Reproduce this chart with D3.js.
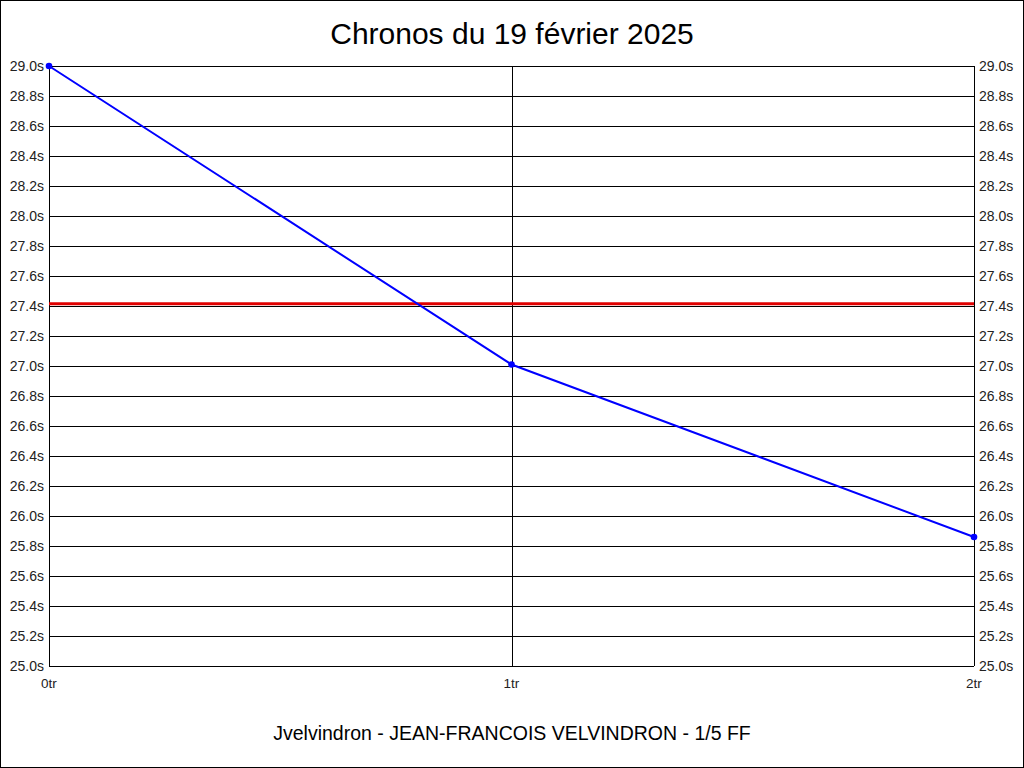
<!DOCTYPE html>
<html><head><meta charset="utf-8">
<script src="https://cdn.jsdelivr.net/npm/d3@7"></script>
<style>body{margin:0;background:#fff}svg{display:block}</style>
</head><body>
<svg id="c" width="1024" height="768"></svg>
<script>
const title = "Chronos du 19 février 2025";
const footer = "Jvelvindron - JEAN-FRANCOIS VELVINDRON - 1/5 FF";
const laps = [0, 1, 2];
const lapLabels = ["0tr", "1tr", "2tr"];
const times = [29.0, 27.01, 25.86];
const refTime = 27.415;
const yTicks = [25.0,25.2,25.4,25.6,25.8,26.0,26.2,26.4,26.6,26.8,27.0,27.2,27.4,27.6,27.8,28.0,28.2,28.4,28.6,28.8,29.0];

const svg = d3.select("#c");
const W = 1024, H = 768;
const m = {l: 49, r: 50, t: 66, b: 102};
const x = d3.scaleLinear().domain([0, 2]).range([m.l, W - m.r]);
const y = d3.scaleLinear().domain([25, 29]).range([H - m.b, m.t]);
const font = "Liberation Sans, Arial, sans-serif";

svg.append("rect").attr("x",0.5).attr("y",0.5).attr("width",W-1).attr("height",H-1)
  .attr("fill","#fff").attr("stroke","#000");

svg.append("g").selectAll("line").data(yTicks).join("line")
  .attr("x1", x(0)).attr("x2", x(2))
  .attr("y1", d => Math.round(y(d)) + 0.5).attr("y2", d => Math.round(y(d)) + 0.5)
  .attr("stroke", "#000").attr("stroke-width", 1);
svg.append("g").selectAll("line").data(laps).join("line")
  .attr("x1", d => Math.round(x(d)) + 0.5).attr("x2", d => Math.round(x(d)) + 0.5)
  .attr("y1", y(29)).attr("y2", y(25))
  .attr("stroke", "#000").attr("stroke-width", 1);

const fmt = d => d.toFixed(1) + "s";
svg.append("g").selectAll("text").data(yTicks).join("text")
  .attr("x", x(0) - 5).attr("y", d => y(d)).attr("dy", "0.36em")
  .attr("text-anchor", "end").attr("font-family", font).attr("font-size", 14)
  .attr("fill", "#222").text(fmt);
svg.append("g").selectAll("text").data(yTicks).join("text")
  .attr("x", x(2) + 5).attr("y", d => y(d)).attr("dy", "0.36em")
  .attr("text-anchor", "start").attr("font-family", font).attr("font-size", 14)
  .attr("fill", "#222").text(fmt);
svg.append("g").selectAll("text").data(laps).join("text")
  .attr("x", d => x(d)).attr("y", y(25) + 22)
  .attr("text-anchor", "middle").attr("font-family", font).attr("font-size", 13.5)
  .attr("fill", "#222").text((d, i) => lapLabels[i]);

svg.append("line").attr("x1", x(0)).attr("x2", x(2))
  .attr("y1", y(refTime)).attr("y2", y(refTime))
  .attr("stroke", "#e00000").attr("stroke-width", 3);

const pts = laps.map((l, i) => [l, times[i]]);
svg.append("path").datum(pts)
  .attr("d", d3.line().x(d => x(d[0])).y(d => y(d[1])))
  .attr("fill", "none").attr("stroke", "#0000ff").attr("stroke-width", 2);
svg.append("g").selectAll("circle").data(pts).join("circle")
  .attr("cx", d => x(d[0])).attr("cy", d => y(d[1])).attr("r", 3.3)
  .attr("fill", "#0000ff");

svg.append("text").attr("x", W/2).attr("y", 44).attr("text-anchor", "middle")
  .attr("font-family", font).attr("font-size", 30).attr("fill", "#000").text(title);
svg.append("text").attr("x", W/2).attr("y", 740).attr("text-anchor", "middle")
  .attr("font-family", font).attr("font-size", 19.5).attr("fill", "#000").text(footer);
</script>
</body></html>
